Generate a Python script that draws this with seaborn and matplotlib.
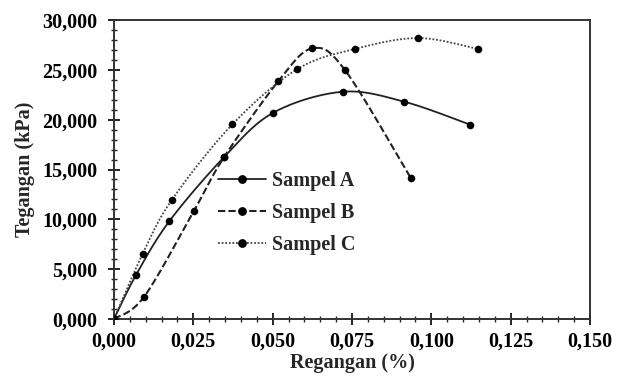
import numpy as np
import pandas as pd
import matplotlib
matplotlib.use("Agg")
import matplotlib.pyplot as plt
import seaborn as sns
from matplotlib.ticker import MultipleLocator, FuncFormatter
from matplotlib.lines import Line2D

# ---- data (strain %, stress in thousands as shown on axis) ----
a_x = [0.0, 0.0069, 0.0174, 0.0347, 0.0502, 0.0720, 0.0915, 0.1122]
a_y = [0.0, 4.40, 9.80, 16.25, 20.70, 22.80, 21.80, 19.50]
b_x = [0.0, 0.0095, 0.0252, 0.0347, 0.0518, 0.0625, 0.0728, 0.0936]
b_y = [0.0, 2.24, 10.86, 16.25, 23.87, 27.15, 24.97, 14.10]
c_x = [0.0, 0.0090, 0.0182, 0.0373, 0.0576, 0.0760, 0.0959, 0.1146]
c_y = [0.0, 6.52, 11.94, 19.53, 25.04, 27.10, 28.19, 27.10]
series_names = ["Sampel A", "Sampel B", "Sampel C"]

x_ticks = [0.0, 0.025, 0.05, 0.075, 0.1, 0.125, 0.15]
y_ticks = [0, 5, 10, 15, 20, 25, 30]


def smooth(xs, ys, n=30):
    P = np.column_stack([xs, ys]).astype(float)
    P = np.vstack([P[0], P, P[-1]])
    out = []
    t = np.linspace(0, 1, n)[:, None]
    for i in range(1, len(P) - 2):
        p0, p1, p2, p3 = P[i - 1], P[i], P[i + 1], P[i + 2]
        c1 = p1 + (p2 - p0) / 6.0
        c2 = p2 - (p3 - p1) / 6.0
        seg = ((1 - t) ** 3) * p1 + 3 * ((1 - t) ** 2) * t * c1 + 3 * (1 - t) * t ** 2 * c2 + t ** 3 * p2
        out.append(seg if i == 1 else seg[1:])
    s = np.vstack(out)
    return s[:, 0], s[:, 1]


sns.set_style("ticks")
plt.rcParams['font.family'] = ['Liberation Serif', 'DejaVu Serif']
plt.rcParams['font.weight'] = 'bold'

FS = 14.5
fig = plt.figure(figsize=(6.22, 3.76), dpi=100)
ax = fig.add_axes([0.1833, 0.1516, 0.7653, 0.7952])

styles = [
    dict(color="#222222", ls="-", lw=1.3),
    dict(color="#222222", ls=(0, (3.5, 1.5)), lw=1.5),
    dict(color="#444444", ls=(0, (1, 1)), lw=1.3),
]
data = [(a_x, a_y), (b_x, b_y), (c_x, c_y)]
handles = []
for (xs, ys), st, name in zip(data, styles, series_names):
    sx, sy = smooth(xs, ys)
    df = pd.DataFrame({"x": sx, "y": sy})
    sns.lineplot(data=df, x="x", y="y", sort=False, ax=ax, color=st["color"],
                 linestyle=st["ls"], linewidth=st["lw"], estimator=None)
    sns.scatterplot(x=xs, y=ys, ax=ax, color="black", s=30, edgecolor="black",
                    linewidth=0, zorder=5)
    handles.append(Line2D([], [], color=st["color"], linestyle=st["ls"],
                          linewidth=st["lw"], marker="o", markersize=5.3,
                          markerfacecolor="black", markeredgecolor="black"))

ax.set_xlim(0, 0.15)
ax.set_ylim(0, 30)
ax.set_xticks(x_ticks)
ax.set_yticks(y_ticks)
ax.xaxis.set_minor_locator(MultipleLocator(0.005))
ax.yaxis.set_minor_locator(MultipleLocator(1))
fmt = FuncFormatter(lambda v, p: f"{v:.3f}".replace(".", ","))
ax.xaxis.set_major_formatter(fmt)
ax.yaxis.set_major_formatter(fmt)
ax.tick_params(which="major", direction="inout", length=8, width=1.2,
               labelsize=FS, colors="black")
ax.tick_params(axis="x", which="major", pad=5)
ax.tick_params(axis="y", which="major", pad=8)
ax.tick_params(which="minor", direction="inout", length=4, width=1.0)
for sp in ax.spines.values():
    sp.set_visible(True)
    sp.set_linewidth(1.4)
    sp.set_color("#333333")

ax.set_xlabel("Regangan (%)", fontsize=FS, fontweight="bold", labelpad=1)
ax.set_ylabel("Tegangan (kPa)", fontsize=FS, fontweight="bold", labelpad=5)

leg = ax.legend(handles, series_names, loc="upper left",
                bbox_to_anchor=(0.180, 0.555), frameon=False,
                handlelength=2.4, handletextpad=0.3,
                labelspacing=0.6, prop={'weight': 'bold', 'size': FS})

fig.savefig("out.png", dpi=100)
